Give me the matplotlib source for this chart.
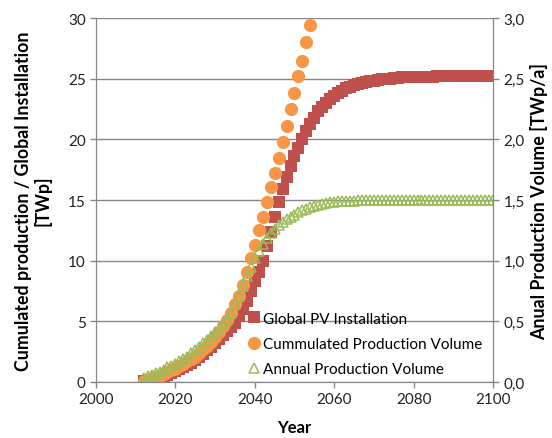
import matplotlib.pyplot as plt
import numpy as np
from matplotlib.ticker import FuncFormatter

plt.rcParams['font.family'] = ['Lato', 'DejaVu Sans']

# annual data points, one per year
years = list(range(2012, 2101))

# Global PV installation [TWp], 2012-2100
installation = [
    0.1, 0.15, 0.2, 0.3, 0.4, 0.5, 0.6, 0.75, 0.9, 1.05,          # 2012-2021
    1.2, 1.4, 1.6, 1.8, 2.05, 2.3, 2.6, 2.9, 3.2, 3.55,           # 2022-2031
    3.9, 4.2, 4.5, 4.9, 5.4, 6.0, 6.7, 7.5, 8.3, 9.1,             # 2032-2041
    10.0, 11.2, 12.4, 13.6, 14.8, 15.9, 16.9, 17.8, 18.6, 19.3,   # 2042-2051
    20.0, 20.7, 21.3, 21.8, 22.3, 22.7, 23.0, 23.3, 23.6, 23.8,   # 2052-2061
    24.0, 24.2, 24.35, 24.45, 24.55, 24.65, 24.75, 24.8, 24.85, 24.9,  # 2062-2071
    24.95, 25.0, 25.0, 25.05, 25.05, 25.1, 25.1, 25.1, 25.15, 25.15,   # 2072-2081
    25.15, 25.15, 25.15, 25.15, 25.2, 25.2, 25.2, 25.2, 25.2, 25.2,    # 2082-2091
    25.2, 25.2, 25.2, 25.2, 25.2, 25.2, 25.2, 25.2, 25.2,              # 2092-2100
]

# cumulated production volume [TWp], only the part below 30 is shown
cum_years = list(range(2012, 2055))
cumulated = [
    0.1, 0.2, 0.3, 0.4, 0.5, 0.65, 0.8, 0.95, 1.1, 1.3,           # 2012-2021
    1.5, 1.7, 1.9, 2.1, 2.4, 2.7, 3.0, 3.3, 3.7, 4.1,             # 2022-2031
    4.6, 5.1, 5.7, 6.4, 7.1, 8.0, 9.1, 10.2, 11.3, 12.5,          # 2032-2041
    13.6, 14.8, 16.1, 17.2, 18.5, 19.8, 21.1, 22.5, 23.8, 25.2,   # 2042-2051
    26.5, 28.0, 29.4,                                             # 2052-2054
]

# annual production volume [TWp/a], 2012-2100
annual = [
    0.03, 0.05, 0.06, 0.07, 0.08, 0.10, 0.12, 0.13, 0.15, 0.17,   # 2012-2021
    0.19, 0.21, 0.24, 0.26, 0.29, 0.32, 0.35, 0.38, 0.41, 0.44,   # 2022-2031
    0.48, 0.52, 0.57, 0.64, 0.71, 0.79, 0.87, 0.95, 1.02, 1.08,   # 2032-2041
    1.14, 1.19, 1.23, 1.26, 1.29, 1.32, 1.34, 1.36, 1.38, 1.40,   # 2042-2051
    1.42, 1.43, 1.44, 1.45, 1.46, 1.47, 1.475, 1.48, 1.485, 1.49, # 2052-2061
    1.49, 1.49, 1.49, 1.49, 1.5, 1.5, 1.5, 1.5, 1.5, 1.5,         # 2062-2071
    1.5, 1.5, 1.5, 1.5, 1.5, 1.5, 1.5, 1.5, 1.5, 1.5,             # 2072-2081
    1.5, 1.5, 1.5, 1.5, 1.5, 1.5, 1.5, 1.5, 1.5, 1.5,             # 2082-2091
    1.5, 1.5, 1.5, 1.5, 1.5, 1.5, 1.5, 1.5, 1.5,                  # 2092-2100
]

red = '#C0504D'
orange = '#F79646'
green = '#9BBB59'
grey = '#868686'

fig = plt.figure(figsize=(5.52, 4.39), dpi=100)
ax = fig.add_axes([0.174, 0.1276, 0.719, 0.829])
ax2 = ax.twinx()

l1, = ax.plot(years, installation, 's', color=red, ms=8.4, mec=red, mew=0,
              label='Global PV Installation')
l2, = ax.plot(cum_years, cumulated, 'o', color=orange, ms=9.5, mec=orange, mew=0,
              label='Cummulated Production Volume')
l3, = ax2.plot(years, annual, '^', mfc='none', mec=green, ms=7.4, mew=1.1,
               label='Annual Production Volume')

ax.set_xlim(2000, 2100)
ax.set_ylim(0, 30)
ax2.set_ylim(0, 3)
ax.set_xticks(np.arange(2000, 2101, 20))
ax.set_yticks(np.arange(0, 31, 5))
ax2.set_yticks(np.arange(0, 3.01, 0.5))
ax2.yaxis.set_major_formatter(FuncFormatter(lambda v, p: f'{v:.1f}'.replace('.', ',')))

ax.yaxis.grid(True, color=grey, lw=1)
ax.set_axisbelow(True)

for a in (ax, ax2):
    for s in a.spines.values():
        s.set_color(grey)
    a.spines['top'].set_visible(False)
    a.tick_params(colors=grey, labelcolor='#222222', labelsize=11, length=4, width=1)

ax.set_xlabel('Year', fontsize=12, fontweight='bold', labelpad=9)
ax.set_ylabel('Cumulated production / Global Installation\n[TWp]', fontsize=12.8,
              fontweight='bold', labelpad=12, linespacing=1.05)
ax2.set_ylabel('Anual Production Volume [TWp/a]', fontsize=12.8, fontweight='bold',
               labelpad=4)

ax2.legend(handles=[l1, l2, l3], loc='lower left', bbox_to_anchor=(0.36, -0.01),
           frameon=False, fontsize=11, handlelength=0.8, handletextpad=0.2,
           labelspacing=0.75, borderaxespad=0.2)

fig.savefig('out.png', dpi=100)
